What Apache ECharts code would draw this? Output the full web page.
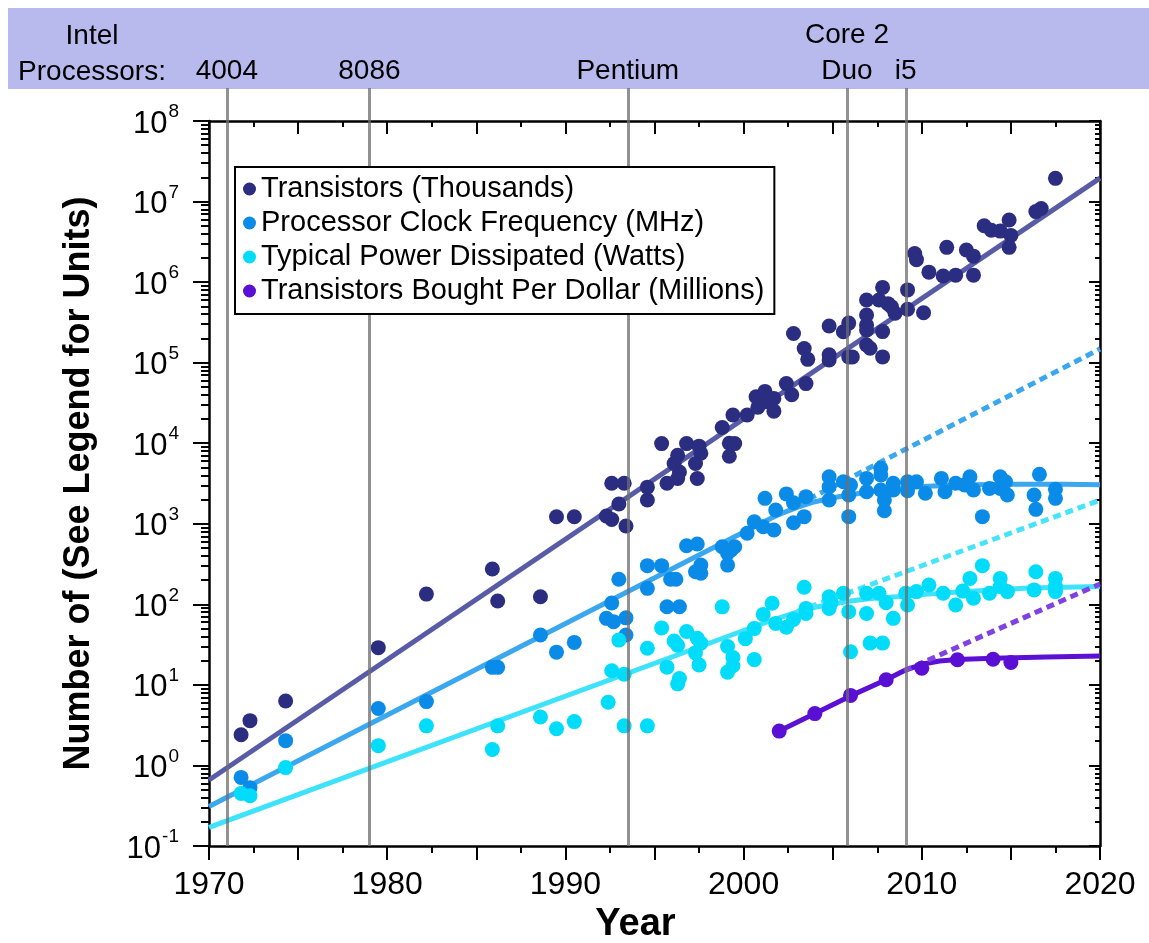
<!DOCTYPE html>
<html>
<head>
<meta charset="utf-8">
<title>Intel processor trends</title>
<script src="https://cdn.jsdelivr.net/npm/echarts@6.0.0/dist/echarts.min.js"></script>
<style>
	html, body { margin: 0; padding: 0; background: #fff; }
	#chart { width: 1149px; height: 943px; }
</style>
</head>
<body>
<div id="chart"></div>
<script>
// scatter points: [year, value]
var transistors = [
	[1971.8, 2.4], [1972.3, 3.6], [1974.3, 6.3], [1979.5, 29], [1982.2, 134], [1985.9, 275], [1986.2, 110],
	[1988.6, 124], [1989.5, 1220], [1990.5, 1220], [1992.3, 1250], [1992.6, 1130], [1992.6, 3180], [1993.0, 1760],
	[1993.3, 3180], [1993.4, 940], [1994.6, 2850], [1994.6, 1970], [1995.4, 9900], [1995.7, 3180], [1996.1, 5600],
	[1996.3, 7100], [1996.4, 4400], [1996.3, 3650], [1996.8, 9900], [1997.5, 9200], [1997.6, 7500], [1997.3, 5600],
	[1997.4, 3650], [1998.8, 15700], [1999.2, 10000], [1999.5, 9900], [1999.2, 6900], [1999.4, 22400], [2000.2, 22400],
	[2000.7, 37700], [2000.8, 28000], [2001.2, 44000], [2001.2, 32700], [2001.7, 36000], [2001.7, 25000], [2002.4, 55000],
	[2002.7, 40000], [2002.8, 230000], [2003.4, 150000], [2003.6, 110000], [2003.5, 55000], [2004.8, 285000],
	[2004.8, 125000], [2004.8, 108000], [2005.6, 242000], [2005.9, 310000], [2005.9, 118000], [2006.1, 118000],
	[2006.9, 600000], [2006.9, 390000], [2006.9, 293000], [2006.9, 254000], [2006.9, 166000], [2007.1, 151000],
	[2007.6, 600000], [2007.8, 860000], [2007.8, 243000], [2007.8, 118000], [2008.1, 540000], [2008.3, 495000],
	[2008.5, 410000], [2009.2, 800000], [2009.2, 460000], [2009.6, 2270000], [2009.7, 1900000], [2010.1, 417000],
	[2010.4, 1330000], [2011.2, 1190000], [2011.4, 2700000], [2011.9, 1220000], [2012.5, 2500000], [2012.9, 2100000],
	[2012.9, 1220000], [2013.5, 5000000], [2013.9, 4400000], [2014.4, 4300000], [2014.9, 5900000], [2015.0, 3800000],
	[2014.9, 2700000], [2016.4, 7500000], [2016.7, 8200000], [2017.5, 19400000]
];
var clockMHz = [
	[1971.8, 0.71], [1972.3, 0.53], [1974.3, 2.03], [1979.5, 5.1], [1982.2, 6.2], [1985.9, 16.5], [1986.2, 16.5],
	[1988.6, 41.6], [1989.5, 25.5], [1990.5, 33.7], [1992.3, 67], [1992.7, 61], [1992.6, 104], [1993.0, 205],
	[1993.4, 68], [1993.4, 41.6], [1994.6, 302], [1994.6, 158], [1995.4, 302], [1995.7, 93.5], [1996.4, 93.5],
	[1995.9, 205], [1996.2, 205], [1996.8, 534], [1997.4, 561], [1997.6, 307], [1997.3, 254], [1997.6, 243],
	[1998.8, 519], [1999.3, 472], [1999.5, 519], [1999.1, 430], [1999.1, 307], [2000.2, 762], [2000.6, 1060],
	[2001.1, 920], [2001.7, 838], [2001.2, 2070], [2001.8, 1480], [2002.4, 2350], [2002.8, 1825], [2002.8, 1030],
	[2003.4, 1225], [2003.5, 2170], [2004.8, 3840], [2004.8, 2880], [2004.8, 1970], [2005.6, 3330], [2006.0, 3030],
	[2005.9, 2280], [2005.9, 1225], [2006.9, 3660], [2006.9, 2500], [2007.7, 4890], [2007.7, 4040], [2007.7, 2630],
	[2007.9, 1970], [2007.9, 1450], [2008.4, 3180], [2008.4, 2630], [2009.2, 3330], [2009.2, 2570], [2009.7, 3330],
	[2010.2, 2390], [2011.1, 3660], [2011.3, 2500], [2011.9, 3180], [2012.4, 3030], [2012.7, 3840], [2012.9, 2630],
	[2013.4, 1225], [2013.8, 2750], [2014.4, 3840], [2014.4, 2750], [2014.7, 3330], [2014.8, 2280], [2016.3, 2280],
	[2016.4, 1510], [2016.6, 4110], [2017.5, 2680], [2017.5, 2070]
];
var powerWatts = [
	[1971.8, 0.45], [1972.3, 0.42], [1974.3, 0.94], [1979.5, 1.76], [1982.2, 3.1], [1985.9, 1.58], [1986.2, 3.1],
	[1988.6, 4.0], [1989.5, 2.85], [1990.5, 3.5], [1992.4, 6.1], [1992.6, 15], [1993.0, 36], [1993.3, 13.6],
	[1993.3, 3.1], [1994.6, 3.1], [1994.6, 28.5], [1995.4, 51], [1995.7, 16.6], [1996.1, 35], [1996.3, 31],
	[1996.4, 12], [1996.3, 10.3], [1996.8, 46], [1997.4, 38], [1997.6, 33], [1997.3, 25], [1997.5, 17.7],
	[1998.8, 93], [1999.1, 30], [1999.4, 21.8], [1999.4, 17.3], [1999.1, 14.4], [2000.1, 37.5], [2000.6, 50],
	[2000.6, 20.6], [2001.1, 75], [2001.6, 103], [2001.8, 58], [2002.4, 52], [2002.8, 65], [2003.4, 163],
	[2003.5, 89], [2003.5, 77], [2004.8, 124], [2004.9, 105], [2004.8, 89], [2005.6, 137], [2005.9, 81],
	[2006.0, 25.8], [2006.9, 137], [2006.9, 77], [2007.1, 33], [2007.6, 137], [2007.8, 33], [2008.0, 105],
	[2008.4, 67], [2009.1, 137], [2009.2, 98], [2009.7, 144], [2010.4, 174], [2011.2, 137], [2011.9, 98],
	[2012.3, 146], [2012.7, 210], [2012.9, 119], [2013.4, 302], [2013.8, 137], [2014.4, 210], [2014.4, 166],
	[2014.8, 144], [2016.3, 151], [2016.4, 254], [2017.5, 210], [2017.5, 166], [2017.5, 144]
];
var perDollar = [
	[2002, 2.67], [2004, 4.4], [2006, 7.4], [2008, 11.6], [2010, 16.1], [2012, 20.5], [2014, 20.8], [2015, 19]
];

// fitted curves
var transFit = [[1970, 0.66], [2020, 19500000]];
var clockFit = [
	[1970, 0.31], [2001, 1020], [2002, 1310], [2003, 1600], [2004, 1880], [2005, 2100], [2006, 2290], [2007, 2480],
	[2008, 2650], [2009, 2790], [2010, 2900], [2012, 3020], [2015, 3100], [2018, 3100], [2020, 3060]
];
var clockExt = [[2003, 1700], [2020, 148000]];
var powerFit = [
	[1970, 0.17], [2001, 57], [2002, 68], [2003, 80], [2004, 92], [2005, 101], [2006, 110], [2007, 117],
	[2008, 122], [2009, 126], [2010, 132], [2012, 142], [2014, 151], [2016, 159], [2018, 163], [2020, 166]
];
var powerExt = [[2003, 81], [2020, 1970]];
var dollarFit = [
	[2002, 2.67], [2004, 4.4], [2006, 7.3], [2008, 11.6], [2009, 15.0], [2010, 18.0], [2011, 19.8], [2012, 20.7],
	[2014, 21.4], [2017, 22.2], [2020, 22.8]
];
var dollarExt = [[2009, 15], [2020, 179]];

// processor release markers
var chipYears = [1971, 1979, 1993.5, 2005.8, 2009.1];
var chipNames = ['4004', '8086', 'Pentium', 'Core 2\nDuo', 'i5'];

var seriesNames = [
	'Transistors (Thousands)',
	'Processor Clock Frequency (MHz)',
	'Typical Power Dissipated (Watts)',
	'Transistors Bought Per Dollar (Millions)'
];
var yTicks = [0.1, 1, 10, 100, 1e3, 1e4, 1e5, 1e6, 1e7, 1e8];
var yMinorTicks = [];
for(var d = 0; d < yTicks.length - 1; d++) {
	for(var m = 2; m < 10; m++) {
		yMinorTicks.push(yTicks[d] * m);
	}
}

var FONT = "'Liberation Sans', Arial, sans-serif";
var chart = echarts.init(document.getElementById('chart'));

function fitLine(data, color, dashed, z) {
	return {
		type: 'line',
		data: data,
		symbol: 'none',
		smooth: false,
		silent: true,
		z: z || 2,
		lineStyle: {
			color: color,
			width: 5,
			type: dashed ? [8, 5] : 'solid',
			cap: 'butt',
			join: 'round'
		}
	};
}

function dots(name, data, color) {
	return {
		name: name,
		type: 'scatter',
		data: data,
		symbol: 'circle',
		symbolSize: 15,
		z: 3,
		itemStyle: { color: color, opacity: 1 }
	};
}

function yAxisPart(position, inside, ticks, len, showLine, showLabel) {
	return {
		type: 'log',
		logBase: 10,
		min: 0.1,
		max: 1e8,
		gridIndex: 0,
		position: position,
		axisLine: { show: showLine, lineStyle: { color: '#000', width: 2.5 } },
		axisTick: { show: true, inside: inside, length: len, customValues: ticks, lineStyle: { color: '#000', width: 2 } },
		axisLabel: {
			show: showLabel,
			customValues: ticks,
			margin: 30,
			formatter: function(v) {
				var e = Math.round(Math.log(v) / Math.LN10);
				return '{b|10}{s|' + e + '}';
			},
			rich: {
				b: { fontSize: 31, fontFamily: FONT, color: '#000', padding: [6, 0, 0, 0] },
				s: { fontSize: 19, fontFamily: FONT, color: '#000', verticalAlign: 'top', padding: [0, 0, 10, 1] }
			}
		},
		splitLine: { show: false },
		minorTick: { show: false },
		minorSplitLine: { show: false }
	};
}

var option = {
	animation: false,
	backgroundColor: '#fff',
	textStyle: { fontFamily: FONT },
	graphic: [{
		type: 'rect',
		left: 8,
		top: 8,
		shape: { width: 1141, height: 81 },
		style: { fill: '#b8baee' },
		z: 0
	}, {
		type: 'text',
		x: 92,
		y: 18,
		style: {
			text: 'Intel\nProcessors:',
			font: '28px ' + FONT,
			fill: '#000',
			align: 'center',
			verticalAlign: 'top',
			lineHeight: 36
		},
		z: 1
	}],
	grid: [
		{ left: 209, top: 121, width: 891, height: 725, outerBoundsMode: 'none', containLabel: false },
		{ left: 209, top: 88, width: 891, height: 758, outerBoundsMode: 'none', containLabel: false }
	],
	legend: {
		data: seriesNames,
		orient: 'vertical',
		left: 235,
		top: 167,
		icon: 'circle',
		itemWidth: 13,
		itemHeight: 13,
		itemGap: 0,
		padding: [5, 10, 6, 8],
		borderColor: '#000',
		borderWidth: 2,
		backgroundColor: '#fff',
		selectedMode: false,
		z: 10,
		textStyle: { fontSize: 29, color: '#000', fontFamily: FONT, lineHeight: 34 }
	},
	xAxis: [{
		type: 'value',
		gridIndex: 0,
		position: 'bottom',
		min: 1970,
		max: 2020,
		interval: 5,
		axisLine: { lineStyle: { color: '#000', width: 2.5 } },
		axisTick: { length: 14, lineStyle: { color: '#000', width: 2 } },
		minorTick: { show: true, splitNumber: 2, length: 7, lineStyle: { color: '#000', width: 2 } },
		axisLabel: {
			fontSize: 32,
			color: '#000',
			fontFamily: FONT,
			margin: 23,
			formatter: function(v) {
				return v % 10 === 0 ? String(v) : '';
			}
		},
		splitLine: { show: false },
		name: 'Year',
		nameLocation: 'middle',
		nameGap: 60,
		nameTextStyle: { fontSize: 38, fontWeight: 'bold', color: '#000', fontFamily: FONT, padding: [0, 38, 0, 0] }
	}, {
		type: 'value',
		gridIndex: 0,
		position: 'top',
		min: 1970,
		max: 2020,
		interval: 5,
		axisLine: { lineStyle: { color: '#000', width: 2.5 } },
		axisTick: { inside: true, length: 13, lineStyle: { color: '#000', width: 2 } },
		minorTick: { show: true, splitNumber: 2, length: 6, lineStyle: { color: '#000', width: 2 } },
		axisLabel: { show: false },
		splitLine: { show: false }
	}, {
		type: 'value',
		gridIndex: 1,
		min: 1970,
		max: 2020,
		show: false
	}],
	yAxis: [
		(function() {
			var a = yAxisPart('left', false, yTicks, 16, true, true);
			a.name = 'Number of (See Legend for Units)';
			a.nameLocation = 'middle';
			a.nameGap = 112;
			a.nameTextStyle = { fontSize: 36, fontWeight: 'bold', color: '#000', fontFamily: FONT };
			return a;
		})(),
		yAxisPart('left', false, yMinorTicks, 8, false, false),
		yAxisPart('right', true, yTicks, 11, true, false),
		yAxisPart('right', true, yMinorTicks, 5, false, false),
		{ type: 'value', gridIndex: 1, min: 0, max: 1, show: false }
	],
	series: [
		fitLine(transFit, '#585ca6'),
		fitLine(clockFit, '#3aa7ef'),
		fitLine(clockExt, '#3aa7ef', true),
		fitLine(powerFit, '#3ee3fb'),
		fitLine(powerExt, '#45e4fb', true),
		fitLine(dollarFit, '#5b10d4'),
		fitLine(dollarExt, '#8042e0', true),
		dots(seriesNames[0], transistors, '#2b2d80'),
		dots(seriesNames[1], clockMHz, '#0b8be8'),
		dots(seriesNames[2], powerWatts, '#00dcf9'),
		dots(seriesNames[3], perDollar, '#5a0fd4'),
		{
			type: 'line',
			xAxisIndex: 2,
			yAxisIndex: 4,
			data: [],
			silent: true,
			z: 6,
			markLine: {
				symbol: 'none',
				silent: true,
				animation: false,
				lineStyle: { color: 'rgba(110,110,110,0.75)', width: 3, type: 'solid' },
				label: {
					show: true,
					position: 'end',
					formatter: '{b}',
					fontSize: 28,
					color: '#000',
					fontFamily: FONT,
					lineHeight: 36,
					distance: -1
				},
				data: chipYears.map(function(y, i) {
					return { xAxis: y, name: chipNames[i] };
				})
			}
		}
	]
};

chart.setOption(option);
</script>
</body>
</html>
